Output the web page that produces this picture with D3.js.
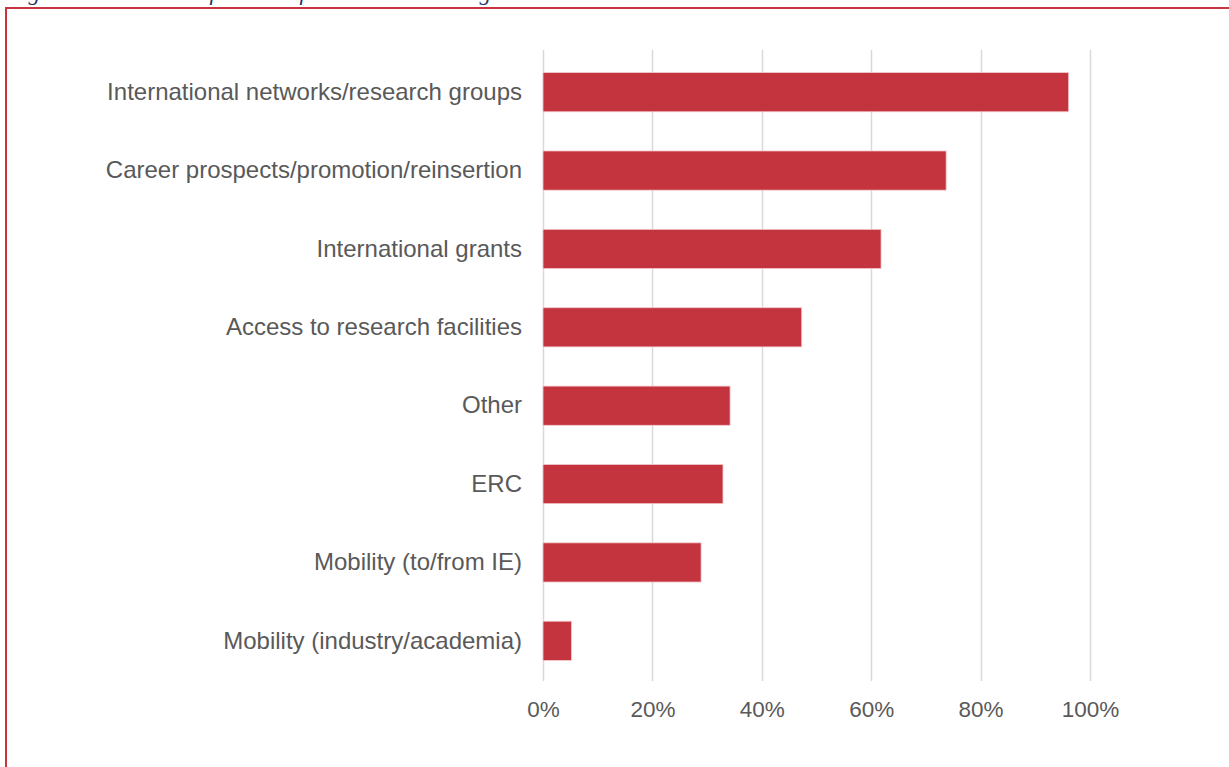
<!DOCTYPE html>
<html>
<head>
<meta charset="utf-8">
<script src="https://cdn.jsdelivr.net/npm/d3@7"></script>
<style>
  html, body { margin: 0; padding: 0; background: #fff; }
  svg { display: block; }
</style>
</head>
<body>
<svg id="chart" width="1229" height="767"></svg>
<script>
const categories = [
  "International networks/research groups",
  "Career prospects/promotion/reinsertion",
  "International grants",
  "Access to research facilities",
  "Other",
  "ERC",
  "Mobility (to/from IE)",
  "Mobility (industry/academia)"
];
const values = [0.961, 0.737, 0.618, 0.473, 0.342, 0.329, 0.289, 0.052];
const tickValues = [0, 0.2, 0.4, 0.6, 0.8, 1.0];
const caption = "Figure 10: What benefits arose from Irish national grants";

const svg = d3.select("#chart");
const W = 1229, H = 767;

// caption (cut off at the top, as in the reference)
svg.append("text")
  .attr("x", 8).attr("y", 0)
  .attr("font-family", "Liberation Serif, serif")
  .attr("font-style", "italic")
  .attr("font-size", 23)
  .attr("fill", "#1f3864")
  .text(caption);

// frame
svg.append("path")
  .attr("d", `M6,${H+5} L6,8 L${W+5},8`)
  .attr("fill", "none")
  .attr("stroke", "#c8353f")
  .attr("stroke-width", 2);

const x = d3.scaleLinear().domain([0, 1]).range([543, 1090]);
const y = d3.scaleBand().domain(categories).range([53, 680]).paddingInner(0.5).paddingOuter(0.25);

// gridlines
svg.append("g")
  .selectAll("line")
  .data(tickValues)
  .join("line")
  .attr("x1", d => Math.round(x(d)) + 0.5)
  .attr("x2", d => Math.round(x(d)) + 0.5)
  .attr("y1", 50)
  .attr("y2", 681)
  .attr("stroke", "#d9d9d9")
  .attr("stroke-width", 1.5);

// bars
svg.append("g")
  .selectAll("rect")
  .data(values)
  .join("rect")
  .attr("x", x(0))
  .attr("y", (d, i) => y(categories[i]))
  .attr("width", d => x(d) - x(0))
  .attr("height", y.bandwidth())
  .attr("fill", "#c4343f")
  .attr("stroke", "#f2c9cc")
  .attr("stroke-width", 0.8);

// category labels
const yAxis = d3.axisLeft(y).tickSize(0).tickPadding(0);
const gy = svg.append("g").attr("transform", "translate(522,0)").call(yAxis);
gy.select(".domain").remove();
gy.selectAll("text")
  .attr("font-family", "Liberation Sans, Arial, sans-serif")
  .attr("font-size", 24)
  .attr("fill", "#595959");

// x tick labels
const xAxis = d3.axisBottom(x).tickValues(tickValues).tickSize(0).tickPadding(0).tickFormat(d3.format(".0%"));
const gx = svg.append("g").attr("transform", "translate(0,701)").call(xAxis);
gx.select(".domain").remove();
gx.selectAll("text")
  .attr("font-family", "Liberation Sans, Arial, sans-serif")
  .attr("font-size", 22.5)
  .attr("fill", "#595959");
</script>
</body>
</html>
